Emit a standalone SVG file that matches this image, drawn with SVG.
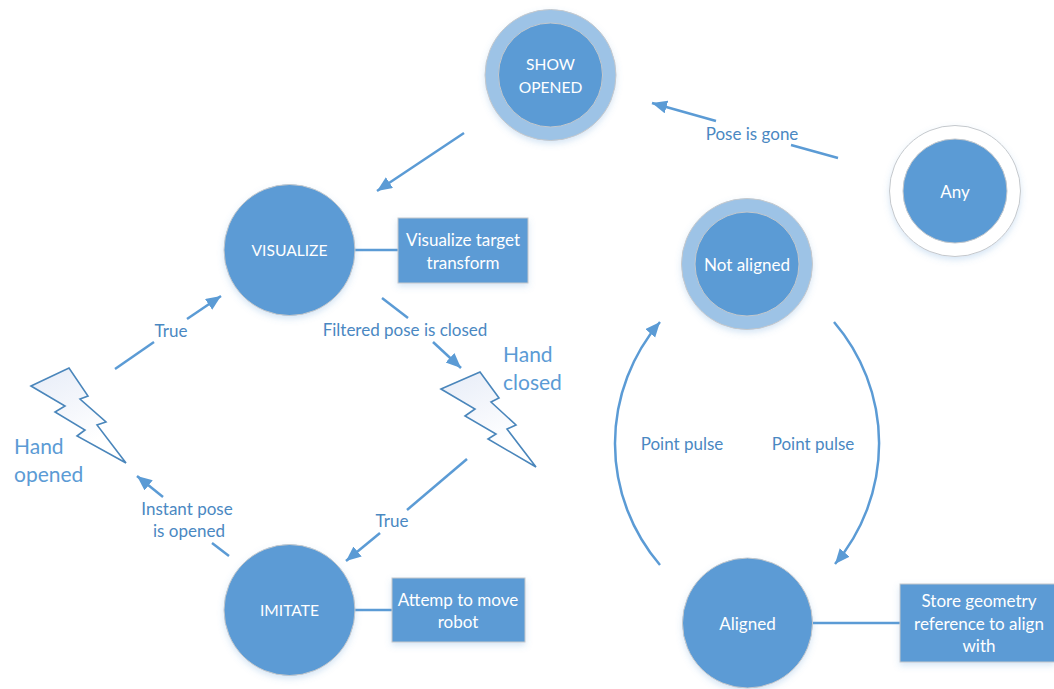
<svg xmlns="http://www.w3.org/2000/svg" width="1054" height="689" viewBox="0 0 1054 689">
<style>
text{font-family:Lato,"Open Sans","Liberation Sans",sans-serif;font-size:17px;text-anchor:middle}
.w{fill:#fff}
.cap{font-size:15.600px}
.l{fill:#4a88c2}
.b{font-size:21px;fill:#5b9bd5;text-anchor:start}
.n{fill:#5b9bd5;stroke:#c4c8cc;stroke-width:1;filter:url(#s)}
.o{fill:#9dc3e6;stroke:#c4c8cc;stroke-width:1;filter:url(#s)}
.e{fill:#fff;stroke:#c4c8cc;stroke-width:1;filter:url(#s)}
.in{fill:#5b9bd5;stroke:#c4c8cc;stroke-width:1}
.c{fill:none;stroke:#5b9bd5;stroke-width:2.500}
.a{marker-end:url(#ah)}
.z{fill:url(#g);stroke:#4a86bb;stroke-width:1.6;stroke-linejoin:miter}
</style>
<defs>
<marker id="ah" markerUnits="userSpaceOnUse" markerWidth="18" markerHeight="14" refX="15" refY="6.5" orient="auto"><path d="M0,0L15,6.5L0,13z" fill="#5b9bd5"/></marker>
<linearGradient id="g" x1="0.2" y1="0" x2="0.6" y2="0.8"><stop offset="0" stop-color="#e9eef8"/><stop offset="1" stop-color="#fff"/></linearGradient>
<filter id="s" x="-15%" y="-15%" width="130%" height="135%"><feDropShadow dx="0" dy="3" stdDeviation="3" flood-color="#5b9bd5" flood-opacity="0.25"/></filter>
</defs>
<rect width="1054" height="689" fill="#fff"/>
<g id="connectors">
<path class="c a" d="M464,133L377,191"/>
<path class="c" d="M838,158L791,145"/>
<path class="c a" d="M716,121L652,103"/>
<path class="c" d="M355,250H398"/>
<path class="c" d="M115,369L154,342"/>
<path class="c a" d="M187,319L221,296"/>
<path class="c" d="M382,298L408,318"/>
<path class="c a" d="M433,342L461,368"/>
<path class="c" d="M229,556L212,543"/>
<path class="c a" d="M163,497L137,476"/>
<path class="c" d="M467,459L407,510"/>
<path class="c a" d="M380,533L346,561"/>
<path class="c" d="M355,610H392"/>
<path class="c" d="M812,623H900"/>
<path class="c a" d="M660,565A186.500,186.500 0 0 1 660,322"/>
<path class="c a" d="M834,322A186.500,186.500 0 0 1 835,564"/>
</g>
<g id="show-opened"><circle class="o" cx="550.500" cy="75" r="65.500"/><circle class="in" cx="550.500" cy="75" r="52"/><text class="w cap" x="550.500" y="70">SHOW</text><text class="w cap" x="550.500" y="93">OPENED</text></g>
<g id="any"><circle class="e" cx="955" cy="191" r="65.500"/><circle class="in" cx="955" cy="191" r="52"/><text class="w" x="955" y="198">Any</text></g>
<g id="not-aligned"><circle class="o" cx="747" cy="264" r="65.500"/><circle class="in" cx="747" cy="264" r="52"/><text class="w" x="747" y="271">Not aligned</text></g>
<g id="visualize"><circle class="n" cx="289.500" cy="250" r="65.500"/><text class="w cap" x="289.500" y="256">VISUALIZE</text></g>
<g id="imitate"><circle class="n" cx="289.500" cy="610" r="65.500"/><text class="w cap" x="289.500" y="616">IMITATE</text></g>
<g id="aligned"><circle class="n" cx="747.500" cy="623" r="65"/><text class="w" x="747.500" y="630">Aligned</text></g>
<g id="visualize-box"><rect class="n" x="398" y="218" width="130" height="65"/><text class="w" x="463" y="246">Visualize target</text><text class="w" x="463" y="269">transform</text></g>
<g id="imitate-box"><rect class="n" x="392" y="578" width="133" height="64"/><text class="w" x="458" y="606">Attemp to move</text><text class="w" x="458" y="628">robot</text></g>
<g id="aligned-box"><rect class="n" x="900" y="584" width="155" height="78"/><text class="w" x="979" y="607">Store geometry</text><text class="w" x="979" y="630">reference to align</text><text class="w" x="979" y="652">with</text></g>
<g id="hand-opened"><path class="z" d="M31,386L69,368L88,396L80,399L106,422L97,425L126,463L77,436L85,430L55,412L65,406z"/><text class="b" x="14" y="454">Hand</text><text class="b" x="14" y="482">opened</text></g>
<g id="hand-closed"><path class="z" d="M441,389L480,372L499,398L491,402L516,425L507,429L536,467L488,439L496,434L465,416L475,409z"/><text class="b" x="503" y="362">Hand</text><text class="b" x="503" y="390">closed</text></g>
<g id="labels">
<text class="l" x="752" y="140">Pose is gone</text>
<text class="l" x="171" y="337">True</text>
<text class="l" x="405" y="336">Filtered pose is closed</text>
<text class="l" x="187" y="515">Instant pose</text>
<text class="l" x="189" y="537">is opened</text>
<text class="l" x="392" y="527">True</text>
<text class="l" x="682" y="450">Point pulse</text>
<text class="l" x="813" y="450">Point pulse</text>
</g>
</svg>
